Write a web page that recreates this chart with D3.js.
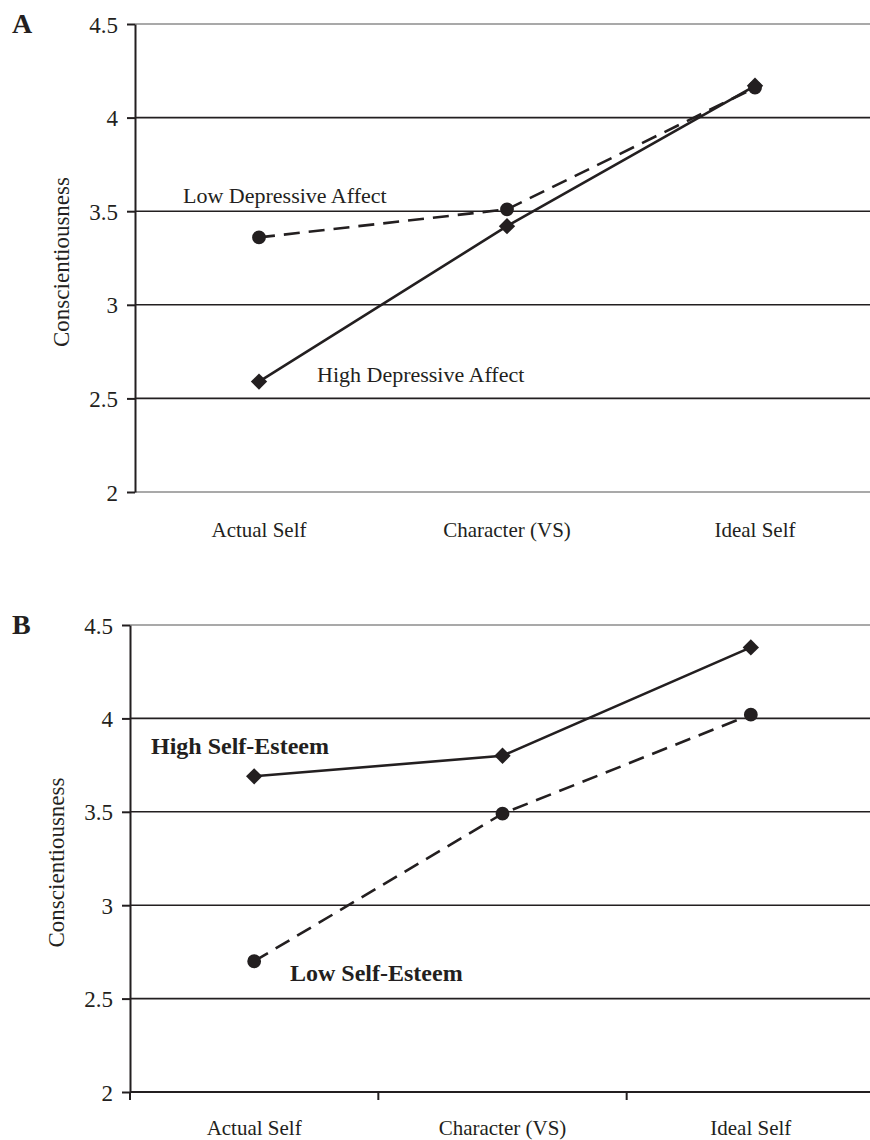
<!DOCTYPE html>
<html>
<head>
<meta charset="utf-8">
<script src="https://cdn.jsdelivr.net/npm/d3@7"></script>
<style>
body{margin:0;background:#fff;}
text{font-family:"Liberation Serif","Times New Roman",serif;fill:#231f20;}
</style>
</head>
<body>
<svg id="chart" width="870" height="1140"></svg>
<script>
'use strict'
// categories and tick values
var categories = ['Actual Self', 'Character (VS)', 'Ideal Self'];
var yTicks = [2, 2.5, 3, 3.5, 4, 4.5];
var yLabel = 'Conscientiousness';

// panel A: depressive affect
var lowDepressive = [3.36, 3.51, 4.16];
var highDepressive = [2.59, 3.42, 4.17];
// panel B: self-esteem
var highSelfEsteem = [3.69, 3.80, 4.38];
var lowSelfEsteem = [2.70, 3.49, 4.02];

var svg = d3.select('#chart');
var ink = '#231f20';

function panel(opt){
	var g = svg.append('g');
	var x = d3.scaleBand().domain(categories).range([opt.left, opt.right]).padding(0);
	var y = d3.scaleLinear().domain([2, 4.5]).range([opt.bottom, opt.top]);
	var cx = function(d, i){ return x(categories[i]) + x.bandwidth()/2; };

	// gridlines
	g.selectAll('line.grid').data(yTicks).enter().append('line')
		.attr('x1', opt.left).attr('x2', opt.right + 20)
		.attr('y1', y).attr('y2', y)
		.attr('stroke', function(d){
			if(d === 4.5) return '#8c8c8c';
			if(d === 2) return opt.xTicks ? ink : '#8c8c8c';
			return ink;
		})
		.attr('stroke-width', function(d){ return (d === 2 && opt.xTicks) ? 2 : 1.6; });

	// y axis
	var ya = g.append('g').attr('transform', 'translate(' + opt.left + ',0)')
		.call(d3.axisLeft(y).tickValues(yTicks).tickSize(8).tickSizeOuter(0).tickFormat(function(d){ return String(d); }));
	ya.select('.domain').attr('stroke', ink).attr('stroke-width', 2);
	ya.selectAll('.tick line').attr('stroke', ink).attr('stroke-width', 2);
	ya.selectAll('.tick text').attr('x', -17).attr('dy', '0.35em')
		.style('font-size', '23px').style('font-family', '"Liberation Serif",serif').attr('fill', ink);

	// x axis
	var xa = g.append('g').attr('transform', 'translate(0,' + opt.bottom + ')');
	if(opt.xTicks){
		xa.selectAll('line').data(categories).enter().append('line')
			.attr('x1', function(d){ return x(d); }).attr('x2', function(d){ return x(d); })
			.attr('y1', 0).attr('y2', 8)
			.attr('stroke', ink).attr('stroke-width', 2);
	}
	xa.selectAll('text').data(categories).enter().append('text')
		.attr('x', function(d){ return x(d) + x.bandwidth()/2; })
		.attr('y', opt.labelOffset)
		.attr('text-anchor', 'middle')
		.style('font-size', '21px')
		.text(function(d){ return d; });

	// y label
	g.append('text')
		.attr('transform', 'translate(' + (opt.left - 66) + ',' + ((opt.top + opt.bottom)/2 + 4) + ') rotate(-90)')
		.attr('text-anchor', 'middle')
		.style('font-size', '23px')
		.text(yLabel);

	// panel letter
	g.append('text').attr('x', 12).attr('y', opt.top + 9)
		.style('font-size', '28px').style('font-weight', 'bold')
		.text(opt.letter);

	var line = d3.line().x(cx).y(function(d){ return y(d); });

	opt.series.forEach(function(s){
		g.append('path').datum(s.values)
			.attr('d', line)
			.attr('fill', 'none')
			.attr('stroke', ink)
			.attr('stroke-width', 2.6)
			.attr('stroke-dasharray', s.dashed ? '16,9' : null);

		var circle = s.marker === 'circle';
		var sym = d3.symbol().type(circle ? d3.symbolCircle : d3.symbolDiamond2).size(circle ? 150 : 170);
		g.selectAll(null).data(s.values).enter().append('path')
			.attr('transform', function(d, i){ return 'translate(' + cx(d, i) + ',' + y(d) + ')'; })
			.attr('d', sym)
			.attr('fill', ink);

		g.append('text')
			.attr('x', s.label.x(x)).attr('y', s.label.y(y))
			.style('font-size', s.label.bold ? '24px' : '22px')
			.style('font-weight', s.label.bold ? 'bold' : null)
			.text(s.name);
	});
}

panel({
	letter: 'A', left: 135, right: 879, top: 24, bottom: 492, labelOffset: 45, xTicks: false,
	series: [
		{name: 'Low Depressive Affect', values: lowDepressive, dashed: true, marker: 'circle',
			label: {x: function(x){ return x('Actual Self') + 48; }, y: function(y){ return y(3.5) - 8; }}},
		{name: 'High Depressive Affect', values: highDepressive, dashed: false, marker: 'diamond',
			label: {x: function(x){ return x('Actual Self') + 182; }, y: function(y){ return y(2.5) - 16; }}}
	]
});

panel({
	letter: 'B', left: 130, right: 875, top: 625, bottom: 1092, labelOffset: 43, xTicks: true,
	series: [
		{name: 'High Self-Esteem', values: highSelfEsteem, dashed: false, marker: 'diamond',
			label: {x: function(x){ return x('Actual Self') + 21; }, y: function(y){ return y(4) + 36; }, bold: true}},
		{name: 'Low Self-Esteem', values: lowSelfEsteem, dashed: true, marker: 'circle',
			label: {x: function(x){ return x('Actual Self') + 160; }, y: function(y){ return y(2.5) - 18; }, bold: true}}
	]
});
</script>
</body>
</html>
